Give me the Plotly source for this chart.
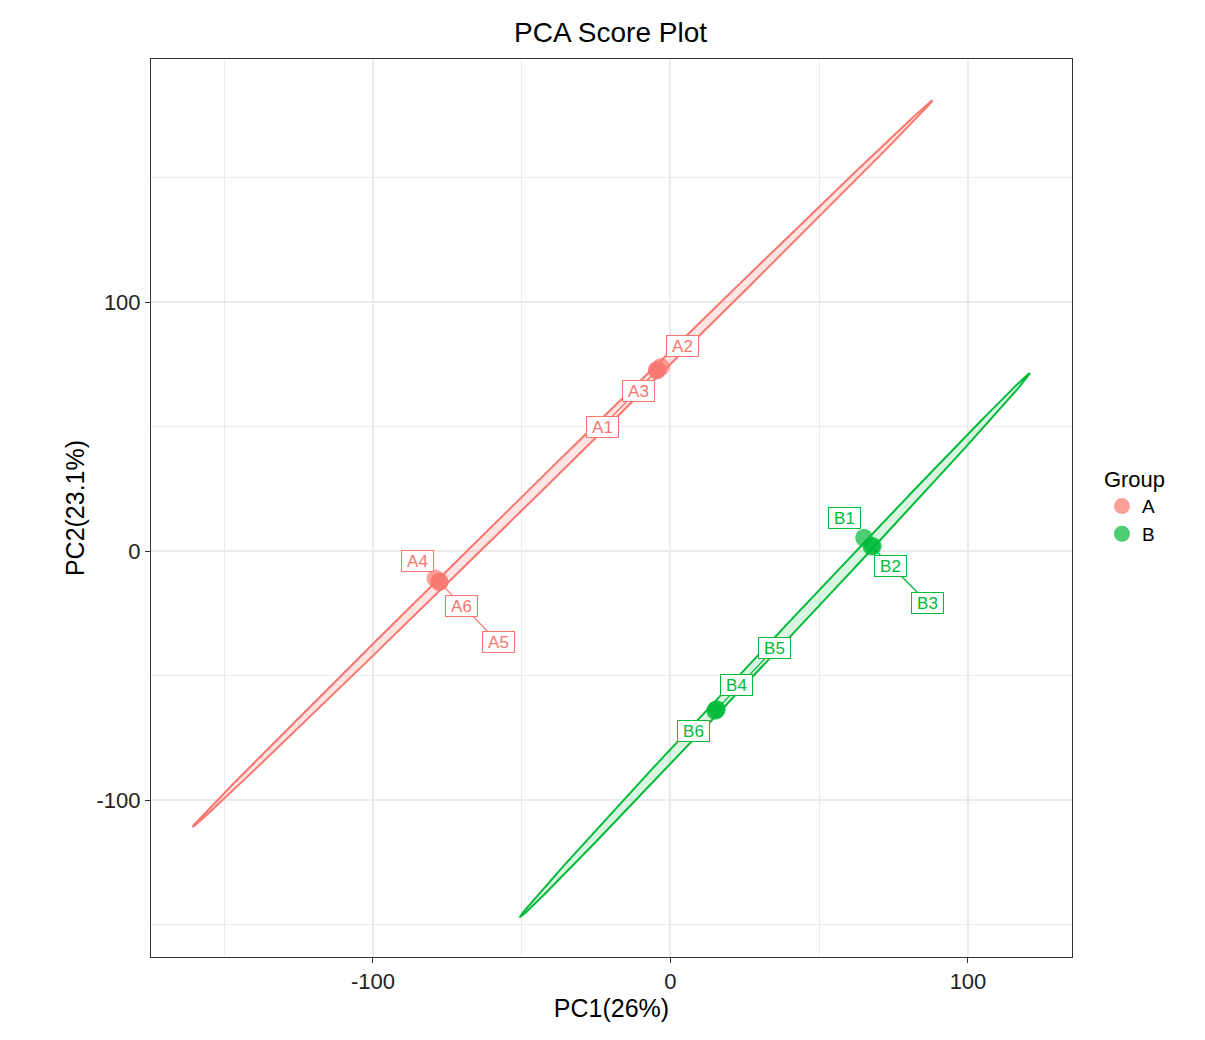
import numpy as np
import plotly.graph_objects as go

# sample scores
samples = ["A1", "A2", "A3", "A4", "A5", "A6", "B1", "B2", "B3", "B4", "B5", "B6"]
groups = ["A"] * 6 + ["B"] * 6
pc1 = [-4.5, -3.2, -4.6, -79.0, -77.7, -77.6, 65.1, 68.0, 67.6, 15.3, 15.6, 15.0]
pc2 = [72.7, 73.9, 72.5, -11.0, -12.5, -12.3, 5.3, 2.0, 1.8, -63.8, -63.5, -64.2]

# label offsets (pixels, ggrepel-like placement)
label_dx = [-55, 22, -18, -18, 59, 22, -20, 18, 56, 21, 58, -22]
label_dy = [57, -21, 21, -17, 60, 24, -20, 20, 56, -25, -61, 20]

# 95% ellipses: centre, half major axis, half minor axis
ell_group = ["A", "B"]
ell_cx = [-36.25, 35.15]
ell_cy = [35.1, -37.75]
ell_ax = [124.35, 85.65]
ell_ay = [145.9, 109.15]
ell_minor = [1.8, 2.0]

colors = {"A": "#F8766D", "B": "#00BA38"}
fills = {"A": "rgba(248,118,109,0.2)", "B": "rgba(0,186,56,0.15)"}
marker_col = {"A": "rgba(248,118,109,0.7)", "B": "rgba(0,186,56,0.7)"}
clear = "rgba(0,0,0,0)"

font = "Liberation Sans, Arial, sans-serif"

fig = go.Figure()

t = np.linspace(0, 2 * np.pi, 400)
for g, cx, cy, ax, ay, b in zip(ell_group, ell_cx, ell_cy, ell_ax, ell_ay, ell_minor):
    n = np.hypot(ax, ay)
    vx, vy = -ay / n, ax / n
    ex = cx + np.cos(t) * ax + np.sin(t) * b * vx
    ey = cy + np.cos(t) * ay + np.sin(t) * b * vy
    fig.add_trace(
        go.Scatter(
            x=ex, y=ey, mode="lines", fill="toself",
            fillcolor=fills[g], line={"color": colors[g], "width": 2},
            showlegend=False, hoverinfo="skip",
        )
    )

for g in ["A", "B"]:
    idx = [i for i, gg in enumerate(groups) if gg == g]
    fig.add_trace(
        go.Scatter(
            x=[pc1[i] for i in idx], y=[pc2[i] for i in idx], mode="markers", name=g,
            marker={"color": marker_col[g], "size": 18, "line": {"width": 0}},
        )
    )

label = dict(
    showarrow=True, arrowhead=0, arrowwidth=1.3, standoff=0, startstandoff=0,
    width=29, height=18, borderpad=1, borderwidth=1,
)

# segments first (under every label), like ggrepel
for s, g, x, y, dx, dy in zip(samples, groups, pc1, pc2, label_dx, label_dy):
    if np.hypot(dx, dy) < 50:
        continue
    fig.add_annotation(
        x=x, y=y, ax=dx, ay=dy, text=s, arrowcolor=colors[g],
        font={"family": font, "size": 17, "color": clear},
        bgcolor=clear, bordercolor=clear, **label,
    )

for s, g, x, y, dx, dy in zip(samples, groups, pc1, pc2, label_dx, label_dy):
    fig.add_annotation(
        x=x, y=y, ax=dx, ay=dy, text=s, arrowcolor=clear,
        font={"family": font, "size": 17, "color": colors[g]},
        bgcolor="white", bordercolor=colors[g], **label,
    )

axis = dict(
    showline=True, linecolor="#333333", linewidth=1, mirror=True,
    showgrid=True, gridcolor="#EBEBEB", gridwidth=2,
    zeroline=False, ticks="outside", ticklen=5, tickcolor="#333333",
    tickmode="array", tickvals=[-100, 0, 100], ticktext=["-100", "0", "100"],
    tickfont={"family": font, "size": 22, "color": "#222222"},
)
minor = {"tickmode": "array", "tickvals": [-150, -50, 50, 150], "showgrid": True,
         "gridcolor": "#EBEBEB", "gridwidth": 1, "ticks": ""}

fig.update_layout(
    width=1205, height=1040,
    margin={"l": 143, "r": 141, "t": 51, "b": 91},
    paper_bgcolor="white", plot_bgcolor="white",
    title={
        "text": "PCA Score Plot", "x": 0.5, "xanchor": "center",
        "y": 0.977, "yanchor": "middle",
        "font": {"family": font, "size": 28, "color": "black"},
    },
    xaxis=dict(
        axis, range=[-174.6, 134.96], minor=minor,
        title={"text": "PC1(26%)", "standoff": 6, "font": {"family": font, "size": 25, "color": "black"}},
    ),
    yaxis=dict(
        axis, range=[-163.05, 197.6], minor=minor,
        title={"text": "PC2(23.1%)", "standoff": 4, "font": {"family": font, "size": 25, "color": "black"}},
    ),
    legend={
        "title": {"text": "Group", "font": {"family": font, "size": 22, "color": "black"}},
        "font": {"family": font, "size": 19, "color": "black"},
        "x": 1.0325, "xanchor": "left", "y": 0.555, "yanchor": "top",
        "tracegroupgap": 0,
    },
)

fig.write_html("out.html")
